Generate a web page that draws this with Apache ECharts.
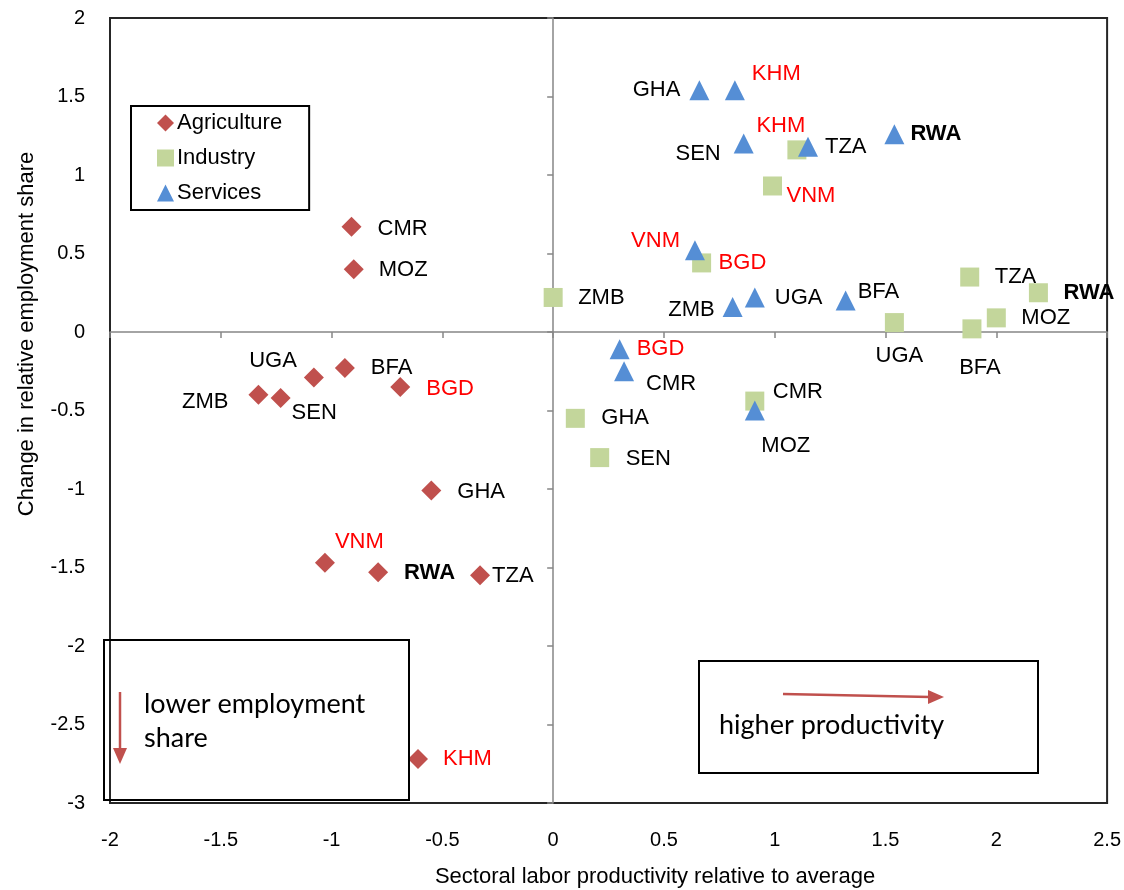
<!DOCTYPE html>
<html>
<head>
<meta charset="utf-8">
<script src="https://cdn.jsdelivr.net/npm/echarts@6/dist/echarts.min.js"></script>
<style>
  html, body { margin: 0; padding: 0; background: #fff; }
  #chart { width: 1124px; height: 890px; }
</style>
</head>
<body>
<div id="chart"></div>
<script>
// values
const agriNames = ['CMR', 'MOZ', 'UGA', 'BFA', 'ZMB', 'SEN', 'BGD', 'GHA', 'VNM', 'RWA', 'TZA', 'KHM'];
const agriX = [-0.91, -0.90, -1.08, -0.94, -1.33, -1.23, -0.69, -0.55, -1.03, -0.79, -0.33, -0.61];
const agriY = [0.67, 0.40, -0.29, -0.23, -0.40, -0.42, -0.35, -1.01, -1.47, -1.53, -1.55, -2.72];

const indNames = ['ZMB', 'BGD', 'VNM', 'KHM', 'TZA', 'RWA', 'MOZ', 'UGA', 'BFA', 'GHA', 'SEN', 'CMR'];
const indX = [0.00, 0.67, 0.99, 1.10, 1.88, 2.19, 2.00, 1.54, 1.89, 0.10, 0.21, 0.91];
const indY = [0.22, 0.44, 0.93, 1.16, 0.35, 0.25, 0.09, 0.06, 0.02, -0.55, -0.80, -0.44];

const servNames = ['GHA', 'KHM', 'SEN', 'TZA', 'RWA', 'VNM', 'ZMB', 'UGA', 'BFA', 'BGD', 'CMR', 'MOZ'];
const servX = [0.66, 0.82, 0.86, 1.15, 1.54, 0.64, 0.81, 0.91, 1.32, 0.30, 0.32, 0.91];
const servY = [1.54, 1.54, 1.20, 1.18, 1.26, 0.52, 0.16, 0.22, 0.20, -0.11, -0.25, -0.50];

const xTicks = [-2, -1.5, -1, -0.5, 0, 0.5, 1, 1.5, 2, 2.5];
const yTicks = [-3, -2.5, -2, -1.5, -1, -0.5, 0, 0.5, 1, 1.5, 2];

// label placement per point: [align, dx, dy] from marker centre
const agriPlace = {
  CMR: ['left', 26, 2], MOZ: ['left', 25, 1], UGA: ['right', -17, -17], BFA: ['left', 26, 0],
  ZMB: ['right', -30, 7], SEN: ['left', 11, 15], BGD: ['left', 26, 2], GHA: ['left', 26, 1],
  VNM: ['left', 10, -21], RWA: ['left', 26, 1], TZA: ['left', 12, 1], KHM: ['left', 25, 0]
};
const indPlace = {
  ZMB: ['left', 25, 0], BGD: ['left', 17, 0], VNM: ['left', 14, 10], KHM: ['center', -16, -24],
  TZA: ['left', 25, 0], RWA: ['left', 25, 0], MOZ: ['left', 25, 0], UGA: ['center', 5, 33],
  BFA: ['center', 8, 39], GHA: ['left', 26, 0], SEN: ['left', 26, 1], CMR: ['left', 18, -9]
};
const servPlace = {
  GHA: ['right', -19, 0], KHM: ['left', 17, -16], SEN: ['right', -23, 10], TZA: ['left', 17, 0],
  RWA: ['left', 16, 0], VNM: ['right', -15, -9], ZMB: ['right', -18, 3], UGA: ['left', 20, 0],
  BFA: ['left', 12, -9], BGD: ['left', 17, 0], CMR: ['left', 22, 13], MOZ: ['center', 31, 35]
};
const redNames = ['KHM', 'VNM', 'BGD'];
const boldNames = ['RWA'];

const SANS = "'Liberation Sans', Arial, sans-serif";
const CALIBRI = "Lato, 'Open Sans', sans-serif";
const AXIS_GRAY = '#868686';

function makePoints(names, xs, ys, place) {
  return names.map((n, i) => {
    const p = place[n];
    return {
      value: [xs[i], ys[i]],
      name: n,
      label: {
        show: true,
        formatter: n,
        position: 'inside',
        align: p[0],
        verticalAlign: 'middle',
        offset: [p[1], p[2]],
        color: redNames.includes(n) ? '#ff0000' : '#000',
        fontWeight: boldNames.includes(n) ? 'bold' : 'normal',
        fontFamily: SANS,
        fontSize: 22
      }
    };
  });
}

const chart = echarts.init(document.getElementById('chart'));

const axisBase = {
  type: 'value',
  splitLine: { show: false }
};

chart.setOption({
  animation: false,
  backgroundColor: '#fff',
  grid: {
    left: 110, top: 18, width: 998, height: 785,
    show: true, borderColor: '#262626', borderWidth: 2
  },
  legend: {
    orient: 'vertical',
    left: 131, top: 106,
    padding: [6, 27, 6, 26],
    itemGap: 13,
    itemWidth: 17, itemHeight: 17,
    borderColor: '#000', borderWidth: 2,
    textStyle: { fontFamily: SANS, fontSize: 22, color: '#000', padding: [0, 0, 0, -2] },
    data: [
      { name: 'Agriculture', icon: 'diamond' },
      { name: 'Industry', icon: 'rect' },
      { name: 'Services', icon: 'triangle' }
    ]
  },
  xAxis: [
    Object.assign({}, axisBase, {
      min: xTicks[0], max: xTicks[xTicks.length - 1], interval: 0.5,
      position: 'bottom',
      axisLine: { show: false, onZero: false },
      axisTick: { show: false },
      axisLabel: { margin: 27, fontSize: 20, color: '#000', fontFamily: SANS }
    }),
    Object.assign({}, axisBase, {
      min: xTicks[0], max: xTicks[xTicks.length - 1], interval: 0.5,
      position: 'bottom',
      axisLine: { show: true, onZero: true, lineStyle: { color: AXIS_GRAY, width: 1.5 } },
      axisTick: { show: true, length: 6, lineStyle: { color: AXIS_GRAY, width: 1.5 } },
      axisLabel: { show: false }
    })
  ],
  yAxis: [
    Object.assign({}, axisBase, {
      min: yTicks[0], max: yTicks[yTicks.length - 1], interval: 0.5,
      position: 'left',
      axisLine: { show: false, onZero: false },
      axisTick: { show: false },
      axisLabel: { margin: 25, fontSize: 20, color: '#000', fontFamily: SANS }
    }),
    Object.assign({}, axisBase, {
      min: yTicks[0], max: yTicks[yTicks.length - 1], interval: 0.5,
      position: 'left',
      axisLine: { show: true, onZero: true, lineStyle: { color: AXIS_GRAY, width: 1.5 } },
      axisTick: { show: true, length: 6, lineStyle: { color: AXIS_GRAY, width: 1.5 } },
      axisLabel: { show: false }
    })
  ],
  graphic: [
    // axis titles
    {
      type: 'text', x: 27, y: 334, rotation: Math.PI / 2,
      style: {
        text: 'Change in relative employment share', fill: '#000',
        font: '22px ' + SANS, align: 'center', verticalAlign: 'middle'
      }
    },
    {
      type: 'text', x: 655, y: 877,
      style: {
        text: 'Sectoral labor productivity relative to average', fill: '#000',
        font: '22px ' + SANS, align: 'center', verticalAlign: 'middle'
      }
    },
    // lower-left note
    {
      type: 'rect', shape: { x: 104, y: 640, width: 305, height: 160 },
      style: { fill: 'none', stroke: '#000', lineWidth: 2 }, z: 10
    },
    {
      type: 'text', x: 144, y: 721,
      style: {
        text: 'lower employment\nshare', fill: '#000', font: '27px ' + CALIBRI,
        lineHeight: 34, verticalAlign: 'middle'
      }, z: 10
    },
    {
      type: 'line', shape: { x1: 120, y1: 692, x2: 120, y2: 750 },
      style: { stroke: '#c0504d', lineWidth: 2.5 }, z: 10
    },
    {
      type: 'polygon', shape: { points: [[113, 748], [127, 748], [120, 764]] },
      style: { fill: '#c0504d' }, z: 10
    },
    // lower-right note
    {
      type: 'rect', shape: { x: 699, y: 661, width: 339, height: 112 },
      style: { fill: 'none', stroke: '#000', lineWidth: 2 }, z: 10
    },
    {
      type: 'text', x: 719, y: 725,
      style: { text: 'higher productivity', fill: '#000', font: '27px ' + CALIBRI, verticalAlign: 'middle' },
      z: 10
    },
    {
      type: 'line', shape: { x1: 783, y1: 694, x2: 930, y2: 697 },
      style: { stroke: '#c0504d', lineWidth: 2.5 }, z: 10
    },
    {
      type: 'polygon', shape: { points: [[928, 690], [944, 697], [928, 704]] },
      style: { fill: '#c0504d' }, z: 10
    }
  ],
  series: [
    {
      name: 'Agriculture', type: 'scatter', symbol: 'diamond', symbolSize: 20,
      xAxisIndex: 0, yAxisIndex: 0,
      itemStyle: { color: '#c0504d', opacity: 1 },
      data: makePoints(agriNames, agriX, agriY, agriPlace)
    },
    {
      name: 'Industry', type: 'scatter', symbol: 'rect', symbolSize: 19,
      xAxisIndex: 0, yAxisIndex: 0,
      itemStyle: { color: '#c3d69b', opacity: 1 },
      data: makePoints(indNames, indX, indY, indPlace)
    },
    {
      name: 'Services', type: 'scatter', symbol: 'triangle', symbolSize: 20,
      xAxisIndex: 0, yAxisIndex: 0,
      itemStyle: { color: '#558ed5', opacity: 1 },
      data: makePoints(servNames, servX, servY, servPlace)
    }
  ]
});
</script>
</body>
</html>
